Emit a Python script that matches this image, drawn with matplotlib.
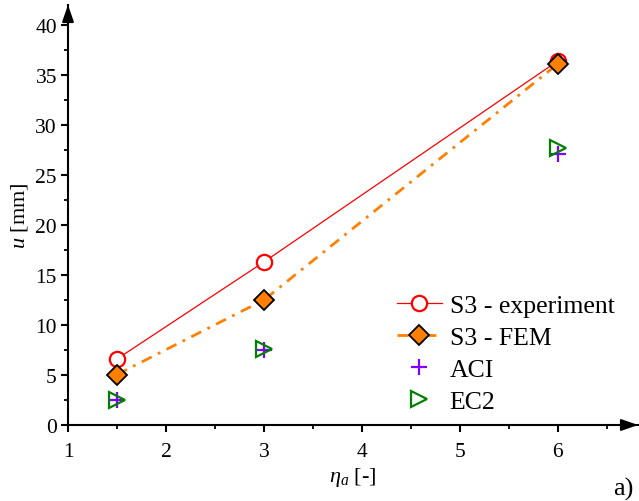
import matplotlib
matplotlib.use("Agg")
import matplotlib.pyplot as plt
from matplotlib.ticker import MultipleLocator

plt.rcParams['font.family'] = ['Liberation Serif', 'DejaVu Serif']
plt.rcParams['mathtext.fontset'] = 'custom'
plt.rcParams['mathtext.it'] = 'Liberation Serif:italic'
plt.rcParams['mathtext.rm'] = 'Liberation Serif'

# aspect ratio eta_a and deflection u [mm]
eta = [1.5, 3, 6]
u_exp = [6.6, 16.3, 36.4]
u_fem = [5.05, 12.5, 36.1]
u_aci = [2.5, 7.5, 27.1]
u_ec2 = [2.5, 7.6, 27.7]

fig = plt.figure(figsize=(6.39, 5.02), dpi=100)
ax = fig.add_axes([68 / 639, 76 / 502, 570 / 639, 420 / 502])

ax.plot(eta, u_exp, color='#ff0000', lw=0.9, marker='o', ms=11,
        mfc='white', mec='#ff0000', mew=1.6, label='S3 - experiment', zorder=3)
ax.plot(eta, u_fem, color='#ff8000', lw=2.0, ls=(0, (4, 2.5, 1, 2.5)),
        marker='D', ms=10, mfc='#ff8000', mec='black', mew=1.3,
        label='S3 - FEM', zorder=4)
ax.plot(eta, u_aci, ls='none', marker='+', ms=11, mec='#8000ff', mew=1.6,
        label='ACI', zorder=5)
ax.plot(eta, u_ec2, ls='none', marker='>', ms=11, mfc='none', mec='#008000',
        mew=1.6, label='EC2', zorder=5)

ax.set_xlim(1, 6.82)
ax.set_ylim(0, 42)
ax.xaxis.set_major_locator(MultipleLocator(1))
ax.xaxis.set_minor_locator(MultipleLocator(0.5))
ax.yaxis.set_major_locator(MultipleLocator(5))
ax.yaxis.set_minor_locator(MultipleLocator(2.5))
ax.set_yticks(range(0, 41, 5))

for s in ('top', 'right'):
    ax.spines[s].set_visible(False)
for s in ('left', 'bottom'):
    ax.spines[s].set_linewidth(1.5)
ax.tick_params(which='major', direction='out', length=5, width=1.5,
               labelsize=15.5)
ax.tick_params(axis='x', which='major', pad=7)
ax.tick_params(axis='y', which='major', pad=3)
ax.tick_params(which='minor', direction='out', length=3, width=1.3)

# arrow heads at the ends of both axes
arrow = dict(arrowstyle='-|>,head_length=1.0,head_width=0.35', color='black',
             lw=1.5, shrinkA=0, shrinkB=0)
ax.annotate('', xy=(1, 0), xycoords='axes fraction', xytext=(-12, 0),
            textcoords='offset points', arrowprops=arrow, annotation_clip=False)
ax.annotate('', xy=(0, 1), xycoords='axes fraction', xytext=(0, -12),
            textcoords='offset points', arrowprops=arrow, annotation_clip=False)

ax.set_xlabel(r'$\mathit{\eta_a}$ [-]', fontsize=16, labelpad=3)
ax.set_ylabel(r'$\mathit{u}$ [mm]', fontsize=16, labelpad=4)

ax.legend(loc='upper left', bbox_to_anchor=(397 / 639, 1 - 295 / 502),
          bbox_transform=fig.transFigure, frameon=False, fontsize=18.5,
          handlelength=1.75, handletextpad=0.3, labelspacing=0.35,
          borderpad=0, borderaxespad=0)

fig.text(0.992, 0.002, 'a)', ha='right', va='bottom', fontsize=19)

fig.savefig('out.png', dpi=100)
